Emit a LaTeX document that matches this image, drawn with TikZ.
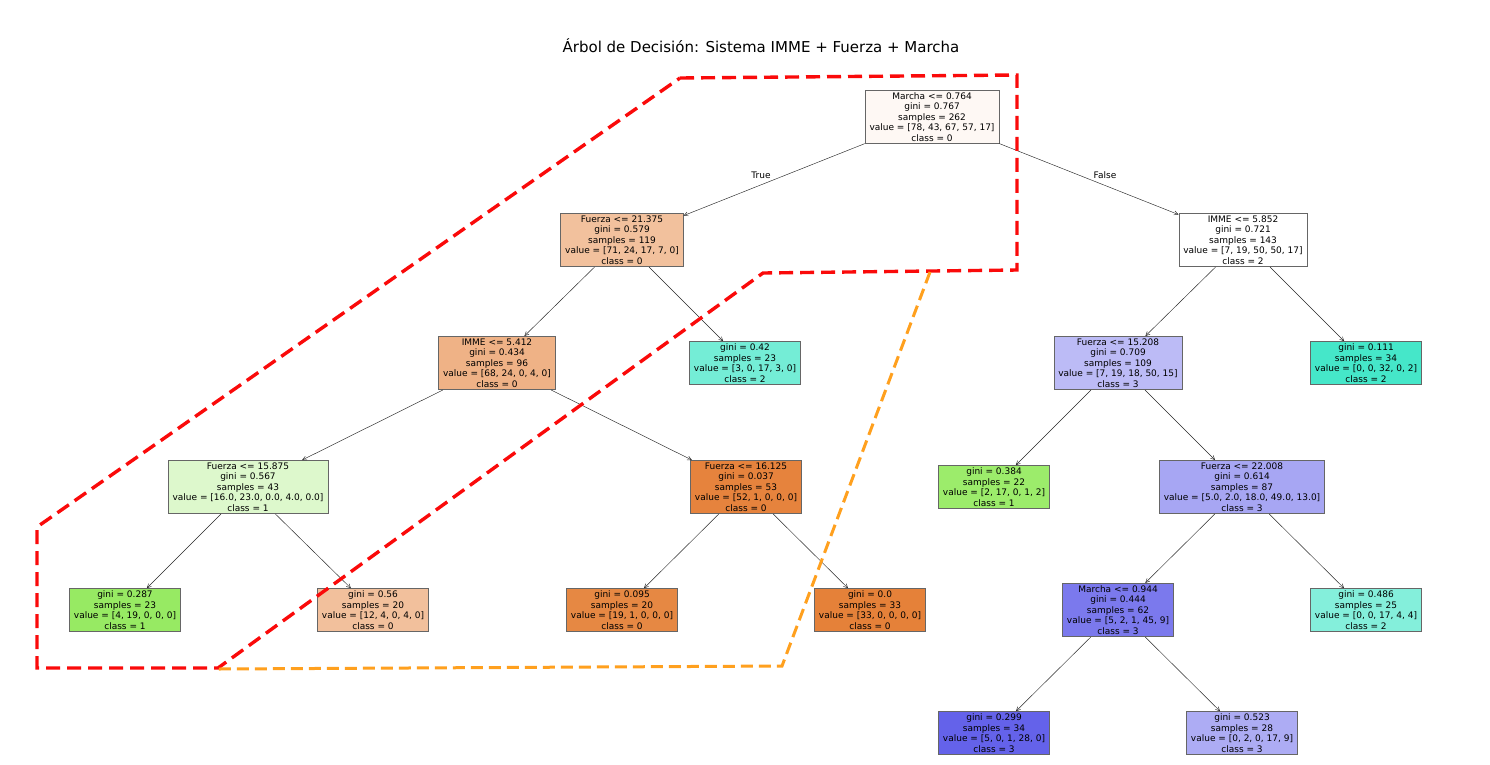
\documentclass[tikz,border=0pt]{standalone}
\usepackage{fontspec}
\setmainfont{DejaVu Sans}
\usetikzlibrary{arrows.meta}
\definecolor{rootc}{RGB}{254,248,244}
\definecolor{fzaA}{RGB}{242,193,157}
\definecolor{immeB}{RGB}{239,178,134}
\definecolor{leafA}{RGB}{116,237,214}
\definecolor{fzaB}{RGB}{188,187,246}
\definecolor{leafB}{RGB}{69,231,201}
\definecolor{fzaC}{RGB}{221,248,204}
\definecolor{fzaD}{RGB}{230,131,61}
\definecolor{leafC}{RGB}{156,236,107}
\definecolor{fzaE}{RGB}{167,166,243}
\definecolor{leafD}{RGB}{151,234,99}
\definecolor{leafE}{RGB}{242,192,156}
\definecolor{leafF}{RGB}{230,136,67}
\definecolor{leafG}{RGB}{229,129,57}
\definecolor{marB}{RGB}{123,121,237}
\definecolor{leafH}{RGB}{132,239,219}
\definecolor{leafI}{RGB}{100,98,234}
\definecolor{leafJ}{RGB}{173,172,244}
\definecolor{zonered}{RGB}{250,10,10}
\definecolor{zoneorange}{RGB}{255,160,30}
\tikzstyle{split} = [rectangle, draw=black!60, line width=0.6pt, align=center, inner xsep=4.5pt, inner ysep=2.3pt, font=\fontsize{9}{10.5}\selectfont]
\tikzstyle{leaf} = [split]
\tikzstyle{arrow} = [line width=0.45pt, draw=black!85, -{Straight Barb[length=4pt,width=4pt]}]
\tikzstyle{zone} = [line width=3.4pt, dash pattern=on 14pt off 7pt]

\begin{document}
\begin{tikzpicture}[x=1pt, y=-1pt]
\useasboundingbox (0,0) rectangle (1490,764);
\node (title) at (761,46) {\fontsize{15}{18}\selectfont Árbol de Decisión: Sistema IMME + Fuerza + Marcha};

\node (root) [split, fill=rootc] at (932,117) {Marcha <= 0.764\\gini = 0.767\\samples = 262\\value = [78, 43, 67, 57, 17]\\class = 0};
\node (fza1) [split, fill=fzaA] at (622,240) {Fuerza <= 21.375\\gini = 0.579\\samples = 119\\value = [71, 24, 17, 7, 0]\\class = 0};
\node (imme1) [split, fill=white] at (1243,240) {IMME <= 5.852\\gini = 0.721\\samples = 143\\value = [7, 19, 50, 50, 17]\\class = 2};
\node (imme2) [split, fill=immeB] at (497,363) {IMME <= 5.412\\gini = 0.434\\samples = 96\\value = [68, 24, 0, 4, 0]\\class = 0};
\node (l042) [leaf, fill=leafA] at (745,363) {gini = 0.42\\samples = 23\\value = [3, 0, 17, 3, 0]\\class = 2};
\node (fza2) [split, fill=fzaB] at (1118,363) {Fuerza <= 15.208\\gini = 0.709\\samples = 109\\value = [7, 19, 18, 50, 15]\\class = 3};
\node (l0111) [leaf, fill=leafB] at (1366,363) {gini = 0.111\\samples = 34\\value = [0, 0, 32, 0, 2]\\class = 2};
\node (fza3) [split, fill=fzaC] at (248,487) {Fuerza <= 15.875\\gini = 0.567\\samples = 43\\value = [16.0, 23.0, 0.0, 4.0, 0.0]\\class = 1};
\node (fza4) [split, fill=fzaD] at (746,487) {Fuerza <= 16.125\\gini = 0.037\\samples = 53\\value = [52, 1, 0, 0, 0]\\class = 0};
\node (l0384) [leaf, fill=leafC] at (994,487) {gini = 0.384\\samples = 22\\value = [2, 17, 0, 1, 2]\\class = 1};
\node (fza5) [split, fill=fzaE] at (1242,487) {Fuerza <= 22.008\\gini = 0.614\\samples = 87\\value = [5.0, 2.0, 18.0, 49.0, 13.0]\\class = 3};
\node (l0287) [leaf, fill=leafD] at (125,610) {gini = 0.287\\samples = 23\\value = [4, 19, 0, 0, 0]\\class = 1};
\node (l056) [leaf, fill=leafE] at (373,610) {gini = 0.56\\samples = 20\\value = [12, 4, 0, 4, 0]\\class = 0};
\node (l0095) [leaf, fill=leafF] at (622,610) {gini = 0.095\\samples = 20\\value = [19, 1, 0, 0, 0]\\class = 0};
\node (l00) [leaf, fill=leafG] at (870,610) {gini = 0.0\\samples = 33\\value = [33, 0, 0, 0, 0]\\class = 0};
\node (mar2) [split, fill=marB] at (1118,610) {Marcha <= 0.944\\gini = 0.444\\samples = 62\\value = [5, 2, 1, 45, 9]\\class = 3};
\node (l0486) [leaf, fill=leafH] at (1366,610) {gini = 0.486\\samples = 25\\value = [0, 0, 17, 4, 4]\\class = 2};
\node (l0299) [leaf, fill=leafI] at (994,733) {gini = 0.299\\samples = 34\\value = [5, 0, 1, 28, 0]\\class = 3};
\node (l0523) [leaf, fill=leafJ] at (1242,733) {gini = 0.523\\samples = 28\\value = [0, 2, 0, 17, 9]\\class = 3};

\node (true) [font=\fontsize{9}{10}\selectfont] at (761,175) {True};
\node (false) [font=\fontsize{9}{10}\selectfont] at (1105,175) {False};

\draw [arrow] (root) -- (fza1);
\draw [arrow] (root) -- (imme1);
\draw [arrow] (fza1) -- (imme2);
\draw [arrow] (fza1) -- (l042);
\draw [arrow] (imme1) -- (fza2);
\draw [arrow] (imme1) -- (l0111);
\draw [arrow] (imme2) -- (fza3);
\draw [arrow] (imme2) -- (fza4);
\draw [arrow] (fza2) -- (l0384);
\draw [arrow] (fza2) -- (fza5);
\draw [arrow] (fza3) -- (l0287);
\draw [arrow] (fza3) -- (l056);
\draw [arrow] (fza4) -- (l0095);
\draw [arrow] (fza4) -- (l00);
\draw [arrow] (fza5) -- (mar2);
\draw [arrow] (fza5) -- (l0486);
\draw [arrow] (mar2) -- (l0299);
\draw [arrow] (mar2) -- (l0523);

% marked regions
\draw [zone, draw=zonered] (680,78) -- (1017,75) -- (1017,270) -- (763,273) -- (218,668) -- (37,668) -- (37,527) -- cycle;
\draw [zone, draw=zoneorange, line width=3pt, dash pattern=on 12pt off 6pt] (930,272) -- (782,666) -- (218,669);

\end{tikzpicture}
\end{document}
